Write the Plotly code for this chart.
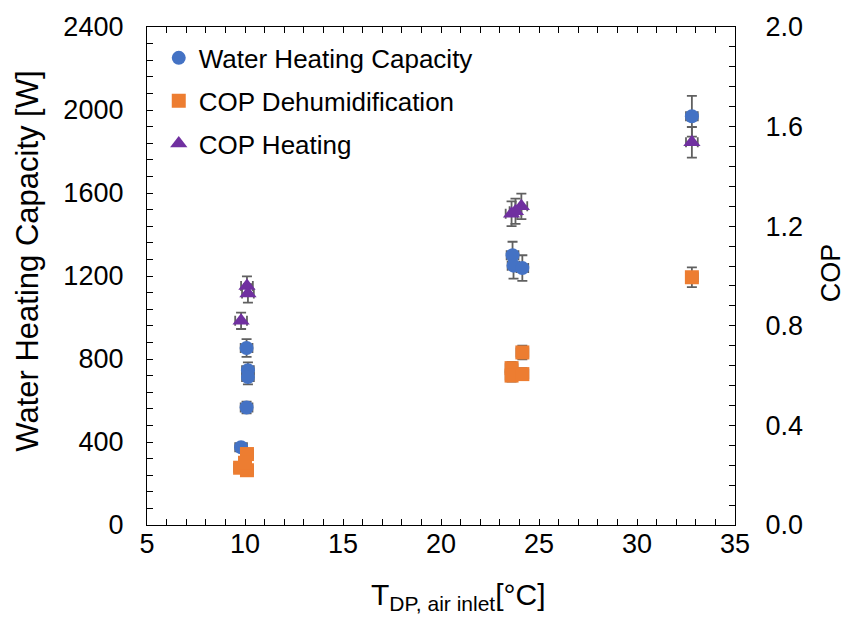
import plotly.graph_objects as go

# Water heating capacity [W]
t_cap = [9.8, 10.08, 10.15, 10.15, 10.08, 23.65, 23.7, 24.15, 32.8]
cap = [375, 853, 746, 713, 566, 1300, 1250, 1238, 1970]

# COP dehumidification
t_dehum = [9.75, 10.1, 10.1, 10.0, 23.6, 23.6, 24.15, 24.15, 32.8]
cop_dehum = [0.23, 0.285, 0.22, 0.25, 0.63, 0.60, 0.693, 0.606, 0.995]

# COP heating
t_heat = [9.8, 10.1, 10.15, 23.6, 23.8, 24.1, 32.8]
cop_heat = [0.82, 0.96, 0.93, 1.25, 1.26, 1.28, 1.537]

x_err = 0.3          # °C
cap_err_pct = 5      # %
cop_err_pct = 4      # %

FONT = "Arial, Liberation Sans, sans-serif"
ERR = "#606060"

def err_x():
    return dict(type="constant", value=x_err, color=ERR, thickness=1.8, width=5)

fig = go.Figure()
fig.add_trace(go.Scatter(
    x=t_cap, y=cap, mode="markers", name="Water Heating Capacity", legendgroup="a",
    marker=dict(symbol="circle", size=14, color="#4472C4"),
    error_x=err_x(),
    error_y=dict(type="percent", value=cap_err_pct, color=ERR, thickness=1.8, width=5),
))
fig.add_trace(go.Scatter(
    x=t_dehum, y=cop_dehum, mode="markers", name="COP Dehumidification", yaxis="y2",
    legendgroup="b",
    marker=dict(symbol="square", size=14, color="#ED7D31"),
    error_x=err_x(),
    error_y=dict(type="percent", value=cop_err_pct, color=ERR, thickness=1.8, width=5),
))
fig.add_trace(go.Scatter(
    x=t_heat, y=cop_heat, mode="markers", name="COP Heating", yaxis="y2",
    legendgroup="c",
    marker=dict(symbol="triangle-up", size=15, color="#7030A0"),
    error_x=err_x(),
    error_y=dict(type="percent", value=cop_err_pct, color=ERR, thickness=1.8, width=5),
))

tickfont = dict(family=FONT, size=27, color="black")
fig.update_layout(
    width=848, height=619,
    margin=dict(l=147, r=113, t=20, b=94),
    paper_bgcolor="white", plot_bgcolor="white",
    font=dict(family=FONT, color="black"),
    showlegend=True,
    legend=dict(x=0.02, y=0.985, xanchor="left", yanchor="top", tracegroupgap=6,
                bgcolor="rgba(0,0,0,0)", font=dict(family=FONT, size=26, color="black"),
                itemwidth=30),
    xaxis=dict(range=[5, 35], dtick=5, tick0=5, ticks="inside", ticklen=6,
               tickcolor="black", showline=True, linecolor="black", linewidth=1.3,
               mirror="ticks", showgrid=False, zeroline=False, tickfont=tickfont,
               ticklabelstandoff=-6,
               minor=dict(dtick=1, ticks="inside", ticklen=6, tickcolor="black", showgrid=False)),
    yaxis=dict(range=[0, 2400], dtick=400, ticks="inside", ticklen=6,
               tickcolor="black", showline=True, linecolor="black", linewidth=1.3,
               showgrid=False, zeroline=False, tickfont=tickfont, ticklabelstandoff=17,
               minor=dict(dtick=80, ticks="inside", ticklen=6, tickcolor="black", showgrid=False)),
    yaxis2=dict(range=[0, 2.0], dtick=0.4, tickformat=".1f", overlaying="y", side="right",
                ticks="inside", ticklen=6, tickcolor="black", showline=True,
                linecolor="black", linewidth=1.3, showgrid=False, zeroline=False,
                tickfont=tickfont, ticklabelstandoff=24,
                minor=dict(dtick=0.08, ticks="inside", ticklen=6, tickcolor="black", showgrid=False)),
    annotations=[
        dict(text="Water Heating Capacity [W]", textangle=-90, xref="paper", yref="paper",
             x=-0.2024, y=0.5307, xanchor="center", yanchor="middle", showarrow=False,
             font=dict(family=FONT, size=31, color="black")),
        dict(text="COP", textangle=-90, xref="paper", yref="paper",
             x=1.163, y=0.507, xanchor="center", yanchor="middle", showarrow=False,
             font=dict(family=FONT, size=27, color="black")),
        dict(text="T<sub>DP, air inlet</sub>[°C]", xref="paper", yref="paper",
             x=0.529, y=-0.143, xanchor="center", yanchor="middle", showarrow=False,
             font=dict(family=FONT, size=30, color="black")),
    ],
)

fig.write_html("out.html")
